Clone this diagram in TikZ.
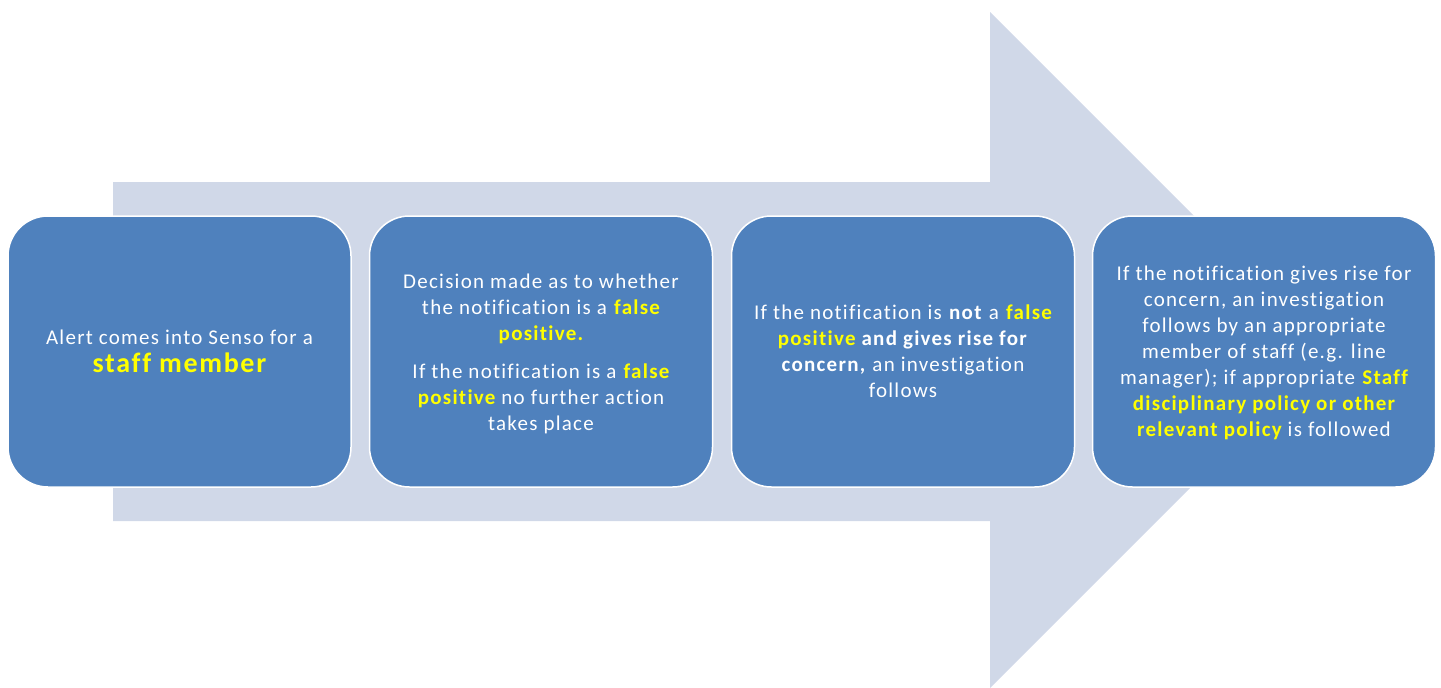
\documentclass[tikz,border=0pt]{standalone}
\usepackage{fontspec}
\setmainfont[LetterSpace=6,Ligatures=NoCommon]{Carlito}
\definecolor{boxblue}{HTML}{4F81BD}
\definecolor{arrowgrey}{HTML}{D0D8E8}
\definecolor{hl}{HTML}{FFFF00}
\newcommand{\hy}[1]{\textbf{\textcolor{hl}{#1}}}
\begin{document}
\begin{tikzpicture}[x=1pt,y=-1pt,
  stepbox/.style={draw=white,line width=1.5pt,fill=boxblue,rounded corners=40pt,
    minimum width=343pt,minimum height=271pt,text=white,align=center,
    font=\fontsize{21}{26}\selectfont,inner sep=0pt},
  steptext/.style={text=white,align=center,font=\fontsize{21}{26}\selectfont,inner sep=0pt}]
\useasboundingbox (0,0) rectangle (1441,688);
\fill[arrowgrey] (113,182) -- (990,182) -- (990,12) -- (1328,350) -- (990,688) -- (990,521) -- (113,521) -- cycle;
\node[stepbox] (b1) at (179.5,351.5) {Alert comes into Senso for a\\[2pt]{\fontsize{28}{30}\selectfont\hy{staff member}}};
\node[stepbox] (b2) at (541,351.5) {};
\node[steptext] (b2t) at ([yshift=-2.5pt]b2.center) {Decision made as to whether\\the notification is a \hy{false}\\\hy{positive.}\\[12pt]If the notification is a \hy{false}\\\hy{positive} no further action\\takes place};
\node[stepbox] (b3) at (903,351.5) {If the notification is \textbf{not} a \hy{false}\\\hy{positive} \textbf{and gives rise for}\\\textbf{concern,} an investigation\\follows};
\node[stepbox] (b4) at (1264,351.5) {};
\node[steptext] (b4t) at ([yshift=-1.5pt]b4.center) {If the notification gives rise for\\concern, an investigation\\follows by an appropriate\\member of staff (e.g. line\\manager); if appropriate \hy{Staff}\\\hy{disciplinary policy or other}\\\hy{relevant policy} is followed};
\end{tikzpicture}
\end{document}
